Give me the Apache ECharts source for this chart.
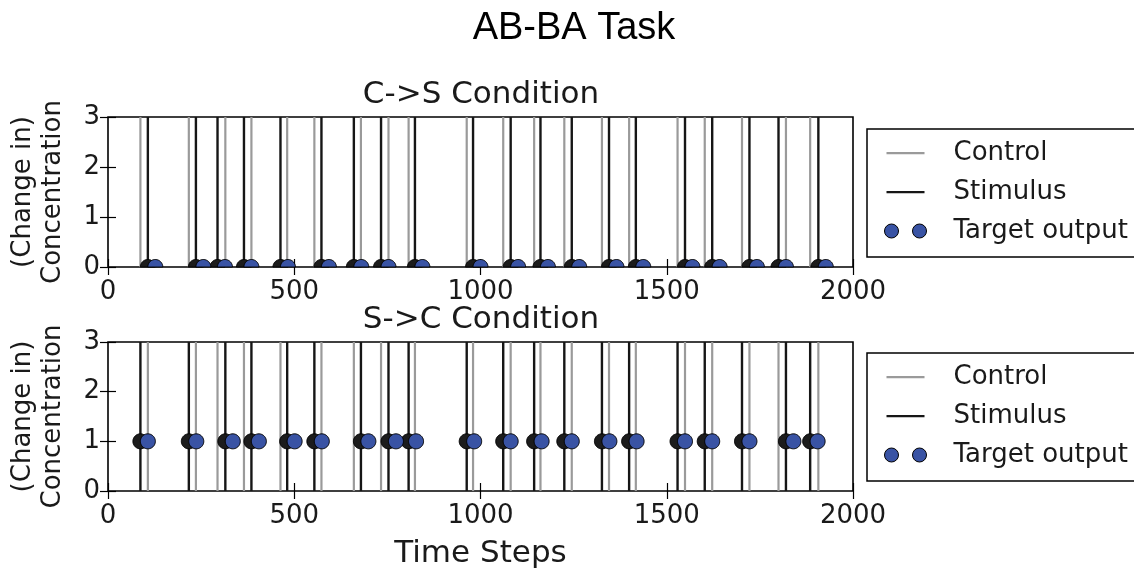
<!DOCTYPE html>
<html>
<head>
<meta charset="utf-8">
<script src="https://cdn.jsdelivr.net/npm/echarts@6/dist/echarts.min.js"></script>
<style>
html,body{margin:0;padding:0;background:#fff;}
#chart{width:1134px;height:571px;}
</style>
</head>
<body>
<div id="chart"></div>
<script>
// ---- data (time steps) ----
const xTicks = [0, 500, 1000, 1500, 2000];
const yTicks = [0, 1, 2, 3];

// C->S condition
const csControl  = [87, 217, 315, 385, 481, 554, 679, 753, 807, 963, 1061, 1144, 1225, 1326, 1399, 1529, 1602, 1702, 1820, 1885];
const csStimulus = [107, 236, 294, 365, 463, 573, 660, 733, 824, 980, 1081, 1161, 1245, 1345, 1417, 1549, 1622, 1722, 1800, 1907];
const csTargetTime = [127, 256, 314, 385, 483, 593, 680, 753, 844, 1000, 1101, 1181, 1265, 1365, 1437, 1569, 1642, 1742, 1820, 1927];
const csTargetValue = [0, 0, 0, 0, 0, 0, 0, 0, 0, 0, 0, 0, 0, 0, 0, 0, 0, 0, 0, 0];
const csOnsetTime = [107, 236, 294, 365, 463, 573, 660, 733, 824, 980, 1081, 1161, 1245, 1345, 1417, 1549, 1622, 1722, 1800, 1907];

// S->C condition
const scControl  = [107, 236, 294, 365, 463, 573, 660, 733, 824, 980, 1081, 1161, 1245, 1345, 1417, 1549, 1622, 1722, 1800, 1907];
const scStimulus = [87, 217, 315, 385, 481, 554, 679, 753, 807, 963, 1061, 1144, 1225, 1326, 1399, 1529, 1602, 1702, 1820, 1885];
const scTargetTime = [107, 237, 335, 405, 501, 574, 699, 773, 827, 983, 1081, 1164, 1245, 1346, 1419, 1549, 1622, 1722, 1840, 1905];
const scTargetValue = [1, 1, 1, 1, 1, 1, 1, 1, 1, 1, 1, 1, 1, 1, 1, 1, 1, 1, 1, 1];
const scOnsetTime = [87, 217, 315, 385, 481, 554, 679, 753, 807, 963, 1061, 1144, 1225, 1326, 1399, 1529, 1602, 1702, 1820, 1885];

// ---- styling ----
const FONT = 'DejaVu Sans';
const GRAY = '#9a9a9a';
const BLACK = '#161616';
const BLUE = '#3953a4';
const DOT_R = 7.5;

function vline(color, width) {
  return function (params, api) {
    const p = api.coord([api.value(0), 0]);
    const cs = params.coordSys;
    return {
      type: 'line',
      shape: { x1: p[0], y1: cs.y + cs.height, x2: p[0], y2: cs.y },
      style: { stroke: color, lineWidth: width }
    };
  };
}
// circle marker, clipped to the plotting area (like matplotlib's axes clipping)
function dot(fill) {
  return function (params, api) {
    const p = api.coord([api.value(0), api.value(1)]);
    const cs = params.coordSys;
    const pts = [];
    const n = 60;
    for (let k = 0; k < n; k++) {
      const a = 2 * Math.PI * k / n;
      const x = Math.min(Math.max(p[0] + DOT_R * Math.cos(a), cs.x), cs.x + cs.width);
      const y = Math.min(Math.max(p[1] + DOT_R * Math.sin(a), cs.y), cs.y + cs.height);
      pts.push([x, y]);
    }
    return {
      type: 'polygon',
      shape: { points: pts },
      style: { fill: fill, stroke: '#000', lineWidth: 1 }
    };
  };
}

const grids = [
  { left: 105, right: 281, top: 117, height: 150 },
  { left: 105, right: 281, top: 342, height: 149 }
];

function xAxes(gi) {
  const base = {
    gridIndex: gi, type: 'value', min: xTicks[0], max: xTicks[xTicks.length - 1], interval: 500,
    axisLine: { show: false },
    axisTick: { show: true, inside: true, length: 8, lineStyle: { color: '#000', width: 1.2 } },
    splitLine: { show: false }
  };
  const bottom = Object.assign({}, base, {
    position: 'bottom',
    axisLabel: { show: true, fontFamily: FONT, fontSize: 26, color: '#1a1a1a', margin: 12,
      formatter: v => String(v) }
  });
  if (gi === 1) {
    Object.assign(bottom, {
      name: 'Time Steps', nameLocation: 'middle', nameGap: 47,
      nameTextStyle: { fontFamily: FONT, fontSize: 31, color: '#1a1a1a' }
    });
  }
  const top = Object.assign({}, base, { position: 'top', axisLabel: { show: false } });
  return [bottom, top];
}
function yAxes(gi) {
  const base = {
    gridIndex: gi, type: 'value', min: yTicks[0], max: yTicks[yTicks.length - 1], interval: 1,
    axisLine: { show: false },
    axisTick: { show: true, inside: true, length: 8, lineStyle: { color: '#000', width: 1.2 } },
    splitLine: { show: false }
  };
  const left = Object.assign({}, base, {
    position: 'left',
    axisLabel: { show: true, fontFamily: FONT, fontSize: 26, color: '#1a1a1a', margin: 8 },
    name: '(Change in)\nConcentration', nameLocation: 'middle', nameGap: 40, nameRotate: 90,
    nameTextStyle: { fontFamily: FONT, fontSize: 26, color: '#1a1a1a', lineHeight: 30 }
  });
  const right = Object.assign({}, base, { position: 'right', axisLabel: { show: false } });
  return [left, right];
}

function seriesFor(gi, control, stimulus, onset, targetTime, targetValue) {
  const xi = gi * 2, yi = gi * 2;
  return [
    { name: 'Control', type: 'custom', xAxisIndex: xi, yAxisIndex: yi,
      data: control.map(t => [t, 0]), encode: { x: 0, y: 1 }, renderItem: vline(GRAY, 2.2),
      itemStyle: { color: GRAY }, z: 2 },
    { name: 'Stimulus', type: 'custom', xAxisIndex: xi, yAxisIndex: yi,
      data: stimulus.map(t => [t, 0]), encode: { x: 0, y: 1 }, renderItem: vline(BLACK, 2.4),
      itemStyle: { color: BLACK }, z: 3 },
    { name: 'Stimulus onset', type: 'custom', xAxisIndex: xi, yAxisIndex: yi,
      data: onset.map((t, i) => [t, targetValue[i]]), encode: { x: 0, y: 1 }, renderItem: dot('#1c1c1c'),
      itemStyle: { color: '#1c1c1c' }, z: 4 },
    { name: 'Target output', type: 'custom', xAxisIndex: xi, yAxisIndex: yi,
      data: targetTime.map((t, i) => [t, targetValue[i]]), encode: { x: 0, y: 1 }, renderItem: dot(BLUE),
      itemStyle: { color: BLUE }, z: 5 }
  ];
}

const lineIcon = 'path://M0,0M52,14M7,6h38v2.2h-38z';
const dotsIcon = 'path://M0,0M52,14M5,7a7,7 0 1,0 14,0a7,7 0 1,0 -14,0zM33,7a7,7 0 1,0 14,0a7,7 0 1,0 -14,0z';

function legendAt(top) {
  return {
    orient: 'vertical', left: 867, top: top,
    padding: [11, 30, 13, 12], itemGap: 13, itemWidth: 52, itemHeight: 14,
    borderColor: '#000', borderWidth: 1.5, backgroundColor: '#fff',
    selectedMode: false,
    textStyle: { fontFamily: FONT, fontSize: 26, color: '#1a1a1a', padding: [0, 0, 0, 17] },
    data: [
      { name: 'Control', icon: lineIcon, itemStyle: { color: GRAY, borderWidth: 0 } },
      { name: 'Stimulus', icon: lineIcon, itemStyle: { color: BLACK, borderWidth: 0 } },
      { name: 'Target output', icon: dotsIcon, itemStyle: { color: BLUE, borderColor: '#000', borderWidth: 1 } }
    ]
  };
}

const chart = echarts.init(document.getElementById('chart'));
chart.setOption({
  animation: false,
  backgroundColor: '#fff',
  title: [
    { text: 'AB-BA Task', left: 574, textAlign: 'center', top: 10, padding: 0,
      textStyle: { fontFamily: 'Liberation Sans', fontSize: 38, fontWeight: 'normal', color: '#000' } },
    { text: 'C->S Condition', left: 481, textAlign: 'center', top: 79, padding: 0,
      textStyle: { fontFamily: FONT, fontSize: 31, fontWeight: 'normal', color: '#1a1a1a' } },
    { text: 'S->C Condition', left: 481, textAlign: 'center', top: 304, padding: 0,
      textStyle: { fontFamily: FONT, fontSize: 31, fontWeight: 'normal', color: '#1a1a1a' } }
  ],
  legend: [legendAt(129), legendAt(353)],
  grid: grids.map(g => Object.assign({ show: true, borderColor: '#000', borderWidth: 1.6, backgroundColor: 'transparent' }, g)),
  xAxis: xAxes(0).concat(xAxes(1)),
  yAxis: yAxes(0).concat(yAxes(1)),
  series: seriesFor(0, csControl, csStimulus, csOnsetTime, csTargetTime, csTargetValue)
    .concat(seriesFor(1, scControl, scStimulus, scOnsetTime, scTargetTime, scTargetValue))
});
</script>
</body>
</html>
